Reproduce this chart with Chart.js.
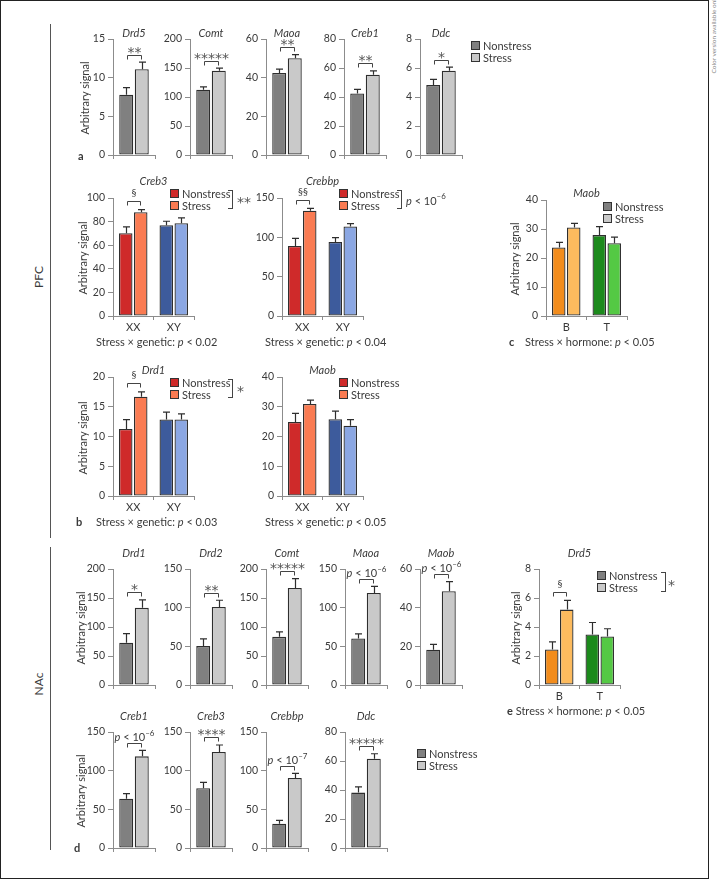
<!DOCTYPE html>
<html><head><meta charset="utf-8">
<script src="https://cdn.jsdelivr.net/npm/chart.js@4.4.1/dist/chart.umd.min.js"></script>
<style>
html,body{margin:0;padding:0;background:#fff;}
#fig{position:relative;width:717px;height:879px;overflow:hidden;font-family:Lato,'Open Sans',sans-serif;color:#3a3a3a;}
.t{position:absolute;white-space:nowrap;line-height:1;}
.t sup{font-size:0.72em;position:relative;top:-0.1em;vertical-align:super;line-height:0;}
canvas{position:absolute;}
.sq{position:absolute;width:7px;height:7px;border:1px solid #333;}
.rb{position:absolute;border-top:1px solid #444;border-right:1px solid #444;border-bottom:1px solid #444;width:4px;}
.ln{position:absolute;background:#555;}
</style></head><body><div id="fig"></div>
<script>
// ---------------- DATA ----------------
// Panel a (PFC)
const aGenes = ['Drd5','Comt','Maoa','Creb1','Ddc'];
const aNonstress = [7.8, 112.5, 42.4, 42.5, 4.82];
const aNonstressSem = [0.9, 5.0, 2.0, 2.7, 0.4];
const aStress = [11.1, 145.2, 50.1, 55.3, 5.81];
const aStressSem = [0.9, 4.7, 1.8, 2.7, 0.25];
const aYMax = [15, 200, 60, 80, 8];
const aYStep = [5, 50, 20, 20, 2];
const aSig = ['**','*****','**','**','*'];

// Panel b (PFC, genotype XX / XY)
const bGroups = ['XX','XY'];
const bGenes = ['Creb3','Crebbp','Drd1','Maob'];
const bNonstress = [[70.1,76.9],[88.9,94.0],[11.27,12.85],[24.9,25.8]];
const bNonstressSem = [[5.4,3.4],[9.8,5.6],[1.58,1.25],[2.9,2.7]];
const bStress = [[87.9,78.6],[133.8,113.7],[16.68,12.85],[30.9,23.6]];
const bStressSem = [[2.2,4.5],[3.0,3.8],[0.82,0.95],[1.3,2.1]];
const bYMax = [100,150,20,40];
const bYStep = [20,50,5,10];
const bSig = ['§','§§','§',''];
const bLegendNote = ['**','p<10^–6','*',''];
const bInteractionP = ['0.02','0.04','0.03','0.05'];

// Panel c (PFC, hormone B / T)
const cGroups = ['B','T'];
const cGene = 'Maob';
const cNonstress = [23.6, 27.9];
const cNonstressSem = [1.8, 2.9];
const cStress = [30.5, 25.1];
const cStressSem = [1.45, 2.1];
const cYMax = 40, cYStep = 10;
const cInteractionP = '0.05';

// Panel d (NAc)
const d1Genes = ['Drd1','Drd2','Comt','Maoa','Maob'];
const d1Nonstress = [73, 50.3, 83, 60.2, 18.2];
const d1NonstressSem = [15.5, 9.4, 8.7, 6.0, 2.8];
const d1Stress = [133, 101, 167.3, 119, 48.5];
const d1StressSem = [13.7, 8.6, 16, 8.6, 5.0];
const d1YMax = [200,150,200,150,60];
const d1YStep = [50,50,50,50,20];
const d1Sig = ['*','**','*****','p<10^–6','p<10^–6'];

const d2Genes = ['Creb1','Creb3','Crebbp','Ddc'];
const d2Nonstress = [63.8, 77.2, 31.5, 38.2];
const d2NonstressSem = [6.5, 7.7, 4.3, 3.9];
const d2Stress = [118.5, 124.1, 90.5, 61.6];
const d2StressSem = [7.8, 9.1, 6.1, 3.4];
const d2YMax = [150,150,150,80];
const d2YStep = [50,50,50,20];
const d2Sig = ['p<10^–6','****','p<10^–7','*****'];

// Panel e (NAc, hormone B / T)
const eGroups = ['B','T'];
const eGene = 'Drd5';
const eNonstress = [2.45, 3.49];
const eNonstressSem = [0.53, 0.82];
const eStress = [5.2, 3.35];
const eStressSem = [0.63, 0.53];
const eYMax = 8, eYStep = 2;
const eSig = '§';
const eInteractionP = '0.05';

// ---------------- STYLE ----------------
const GRAY_NS = '#808080', GRAY_S = '#c9c9c9';
const RED_NS = '#cf2a2a', RED_S = '#fa7b52', BLUE_NS = '#3d5b9c', BLUE_S = '#8ba7e3';
const OR_NS = '#f28c1c', OR_S = '#fdbb5e', GR_NS = '#1c8a1c', GR_S = '#54c944';
const AXIS = '#8c8c8c', TXT = '#3a3a3a', STAR_COLOR = '#555';
const STAR_FONT = "'DejaVu Sans'";
const YW = 30, PT = 16, XH = 16, RP = 6;
const fig = document.getElementById('fig');

function txt(html, x, y, o = {}) {
  const d = document.createElement('div');
  d.className = 't'; d.innerHTML = html;
  d.style.left = x + 'px'; d.style.top = y + 'px';
  d.style.fontSize = (o.size || 11) + 'px';
  if (o.family) d.style.fontFamily = o.family;
  if (o.weight) d.style.fontWeight = o.weight;
  if (o.italic) d.style.fontStyle = 'italic';
  d.style.color = o.color || TXT;
  let tf = o.align === 'center' ? 'translate(-50%,-50%)' : 'translate(0,-50%)';
  if (o.rot) tf = 'translate(-50%,-50%) rotate(-90deg)';
  d.style.transform = tf;
  fig.appendChild(d);
  return d;
}
function sq(x, yc, color) {
  const d = document.createElement('div'); d.className = 'sq';
  d.style.left = x + 'px'; d.style.top = (yc - 4) + 'px'; d.style.background = color;
  fig.appendChild(d);
}
function legend(x, y1, y2, c1, c2) {
  sq(x, y1, c1); sq(x, y2, c2);
  txt('Nonstress', x + 12, y1); txt('Stress', x + 12, y2);
}
function rbracket(x, yt, yb) {
  const d = document.createElement('div'); d.className = 'rb';
  d.style.left = (x - 4) + 'px'; d.style.top = yt + 'px'; d.style.height = (yb - yt) + 'px';
  fig.appendChild(d);
}
function pHtml(s) {
  const e = s.split('^')[1];
  return '<i>p</i> &lt; 10<sup>' + e + '</sup>';
}

// ---------------- PLUGINS ----------------
const errPlugin = { id: 'errbars', afterDatasetsDraw(chart) {
  const ctx = chart.ctx, y = chart.scales.y;
  ctx.save(); ctx.strokeStyle = '#2e2e2e'; ctx.lineWidth = 1.2;
  chart.data.datasets.forEach((ds, i) => {
    chart.getDatasetMeta(i).data.forEach((bar, j) => {
      const top = y.getPixelForValue(ds.data[j]);
      const et = y.getPixelForValue(ds.data[j] + ds.sem[j]);
      const x = Math.round(bar.x) + 0.5;
      ctx.beginPath(); ctx.moveTo(x, top); ctx.lineTo(x, et);
      ctx.moveTo(x - 3.5, et); ctx.lineTo(x + 3.5, et); ctx.stroke();
    });
  });
  ctx.restore();
}};
const sigPlugin = { id: 'sig', afterDatasetsDraw(chart, args, opts) {
  const text = opts.text; if (!text) return;
  const ctx = chart.ctx, y = chart.scales.y, ds = chart.data.datasets;
  const b0 = chart.getDatasetMeta(0).data[0], b1 = chart.getDatasetMeta(1).data[0];
  const tops = [0, 1].map(i => y.getPixelForValue(ds[i].data[0] + ds[i].sem[0]));
  const by = Math.round(Math.min(...tops) - opts.gap) + 0.5;
  const x1 = Math.round(b0.x + 1) + 0.5, x2 = Math.round(b1.x - 1) + 0.5;
  ctx.save(); ctx.strokeStyle = '#444'; ctx.lineWidth = 1;
  ctx.beginPath(); ctx.moveTo(x1, by + 4); ctx.lineTo(x1, by); ctx.lineTo(x2, by); ctx.lineTo(x2, by + 4); ctx.stroke();
  const cx = (x1 + x2) / 2;
  ctx.fillStyle = TXT; ctx.textBaseline = 'alphabetic';
  if (text.startsWith('p')) {
    const e = text.split('^')[1];
    const parts = [['p', 'italic 11px Lato', 0], [' < 10', '11px Lato', 0], [e, '8px Lato', -4.5]];
    let w = 0; parts.forEach(p => { ctx.font = p[1]; p.w = ctx.measureText(p[0]).width; w += p.w; });
    let x = cx - w / 2; ctx.textAlign = 'left';
    parts.forEach(p => { ctx.font = p[1]; ctx.fillText(p[0], x, by - 3 + p[2]); x += p.w; });
  } else if (text.startsWith('§')) {
    ctx.font = '10px Lato'; ctx.textAlign = 'center'; ctx.fillText(text, cx, by - 6);
  } else {
    ctx.fillStyle = STAR_COLOR;
    ctx.font = '14px ' + STAR_FONT; ctx.textAlign = 'center'; ctx.fillText(text, cx, by + 1);
  }
  ctx.restore();
}};

// ---------------- CHART FACTORY ----------------
function makeChart(c) {
  const W = YW + c.len + RP, H = PT + (c.bottom - c.top) + XH;
  const cv = document.createElement('canvas');
  cv.width = W; cv.height = H;
  cv.style.left = (c.x - YW) + 'px'; cv.style.top = (c.top - PT) + 'px';
  cv.style.width = W + 'px'; cv.style.height = H + 'px';
  fig.appendChild(cv);
  const common = { borderColor: '#2e2e2e', borderWidth: 1.3, borderSkipped: false, barPercentage: 0.9, categoryPercentage: 0.74 };
  new Chart(cv, {
    type: 'bar',
    data: { labels: c.labels, datasets: [
      Object.assign({ label: 'Nonstress', data: c.ns, sem: c.nsSem, backgroundColor: c.nsColor }, common),
      Object.assign({ label: 'Stress', data: c.s, sem: c.sSem, backgroundColor: c.sColor }, common)
    ]},
    options: {
      responsive: false, animation: false, devicePixelRatio: 1,
      layout: { padding: { left: 0, right: RP, top: PT, bottom: 0 } },
      plugins: { legend: { display: false }, tooltip: { enabled: false }, sig: { text: c.sig, gap: c.gap || 7.5 } },
      scales: {
        x: {
          grid: { display: true, drawOnChartArea: false, drawTicks: true, tickLength: 4, color: AXIS, offset: true },
          border: { display: true, color: AXIS, width: 1 },
          ticks: { padding: 1, color: TXT, font: { family: 'Lato', size: 11 } },
          afterFit(s) { s.height = XH; }
        },
        y: {
          min: 0, max: c.max,
          ticks: { stepSize: c.step, padding: 3, color: TXT, font: { family: 'Lato', size: 10.5 } },
          grid: { drawOnChartArea: false, drawTicks: true, tickLength: 5, color: AXIS },
          border: { display: true, color: AXIS, width: 1 },
          afterFit(s) { s.width = YW; }
        }
      }
    },
    plugins: [errPlugin, sigPlugin]
  });
  txt(c.title, c.x + c.len / 2, c.titleY, { italic: true, align: 'center' });
  if (c.ylabel) txt('Arbitrary signal', c.ylabelX, (c.top + c.bottom) / 2 + 1, { rot: true });
}

// ---------------- FRAME ----------------
const frame = document.createElement('div');
Object.assign(frame.style, { position: 'absolute', left: '0px', top: '0px', width: '709px', height: '879px', border: '1.5px solid #222', boxSizing: 'border-box' });
fig.appendChild(frame);
function vline(x, y, h) { const d = document.createElement('div'); d.className = 'ln'; Object.assign(d.style, { left: x + 'px', top: y + 'px', width: '1px', height: h + 'px' }); fig.appendChild(d); }
vline(50, 24, 514); vline(50, 547, 303);
txt('PFC', 39, 277, { rot: true, size: 12 });
txt('NAc', 39, 684, { rot: true, size: 12 });
txt('Color version available online', 713.5, 32, { rot: true, size: 6.5, color: '#8a8a8a' });

// ---------------- PANEL a ----------------
const aX = [113, 190, 266, 344, 420];
aGenes.forEach((g, i) => makeChart({
  x: aX[i], top: 39, bottom: 155, len: 42, labels: [''],
  ns: [aNonstress[i]], nsSem: [aNonstressSem[i]], s: [aStress[i]], sSem: [aStressSem[i]],
  nsColor: GRAY_NS, sColor: GRAY_S, max: aYMax[i], step: aYStep[i], sig: aSig[i],
  title: g, titleY: 32, ylabel: i === 0, ylabelX: 84
}));
legend(471, 44.5, 56.5, GRAY_NS, GRAY_S);
txt('a', 78, 155, { weight: 'bold' });

// ---------------- PANEL b ----------------
const bPos = [{ x: 113, top: 198, bottom: 316, ty: 180 }, { x: 282, top: 198, bottom: 316, ty: 180 },
              { x: 113, top: 377, bottom: 496, ty: 369 }, { x: 282, top: 377, bottom: 496, ty: 369 }];
bGenes.forEach((g, i) => {
  const p = bPos[i];
  makeChart({
    x: p.x, top: p.top, bottom: p.bottom, len: 81, labels: bGroups,
    ns: bNonstress[i], nsSem: bNonstressSem[i], s: bStress[i], sSem: bStressSem[i],
    nsColor: [RED_NS, BLUE_NS], sColor: [RED_S, BLUE_S], max: bYMax[i], step: bYStep[i],
    sig: bSig[i], gap: 8.5, title: g, titleY: p.ty, ylabel: p.x < 200, ylabelX: 81.5
  });
  const lx = p.x + 57, ly = p.ty + 12.7;
  legend(lx, ly, ly + 12.3, RED_NS, RED_S);
  const note = bLegendNote[i];
  if (note) {
    rbracket(lx + 61.5, ly - 3, ly + 14.5);
    if (note.startsWith('p')) txt(pHtml(note), lx + 67, ly + 7);
    else txt(note, lx + 67, ly + 9, { size: 14, family: STAR_FONT, color: STAR_COLOR });
  }
  txt('Stress × genetic: <i>p</i> &lt; ' + bInteractionP[i], p.x - 17, p.bottom + 25);
});
txt('b', 76, 521, { weight: 'bold' });

// ---------------- PANEL c ----------------
makeChart({
  x: 546, top: 200, bottom: 316, len: 81, labels: cGroups,
  ns: cNonstress, nsSem: cNonstressSem, s: cStress, sSem: cStressSem,
  nsColor: [OR_NS, GR_NS], sColor: [OR_S, GR_S], max: cYMax, step: cYStep, sig: '',
  title: cGene, titleY: 191.7, ylabel: true, ylabelX: 514
});
legend(603, 205.7, 217.5, GRAY_NS, GRAY_S);
txt('c', 509, 341, { weight: 'bold' });
txt('Stress × hormone: <i>p</i> &lt; ' + cInteractionP, 525, 341);

// ---------------- PANEL d ----------------
const d1X = [113, 190, 266, 345, 420];
d1Genes.forEach((g, i) => makeChart({
  x: d1X[i], top: 569, bottom: 685, len: 42, labels: [''],
  ns: [d1Nonstress[i]], nsSem: [d1NonstressSem[i]], s: [d1Stress[i]], sSem: [d1StressSem[i]],
  nsColor: GRAY_NS, sColor: GRAY_S, max: d1YMax[i], step: d1YStep[i], sig: d1Sig[i],
  title: g, titleY: 552, ylabel: i === 0, ylabelX: 80
}));
const d2X = [113, 190, 266, 345];
d2Genes.forEach((g, i) => makeChart({
  x: d2X[i], top: 732, bottom: 848, len: 42, labels: [''],
  ns: [d2Nonstress[i]], nsSem: [d2NonstressSem[i]], s: [d2Stress[i]], sSem: [d2StressSem[i]],
  nsColor: GRAY_NS, sColor: GRAY_S, max: d2YMax[i], step: d2YStep[i], sig: d2Sig[i],
  title: g, titleY: 715, ylabel: i === 0, ylabelX: 80
}));
legend(417, 753.3, 765.3, GRAY_NS, GRAY_S);
txt('d', 74, 847, { weight: 'bold' });

// ---------------- PANEL e ----------------
makeChart({
  x: 539, top: 569, bottom: 685, len: 81, labels: eGroups,
  ns: eNonstress, nsSem: eNonstressSem, s: eStress, sSem: eStressSem,
  nsColor: [OR_NS, GR_NS], sColor: [OR_S, GR_S], max: eYMax, step: eYStep, sig: eSig, gap: 8.5,
  title: eGene, titleY: 551.7, ylabel: true, ylabelX: 514.5
});
legend(597, 575, 586.8, GRAY_NS, GRAY_S);
rbracket(664.5, 572, 589.5);
txt('*', 668, 585, { size: 14, family: STAR_FONT, color: STAR_COLOR });
txt('<b>e</b> Stress × hormone: <i>p</i> &lt; ' + eInteractionP, 507, 710);
</script></body></html>
